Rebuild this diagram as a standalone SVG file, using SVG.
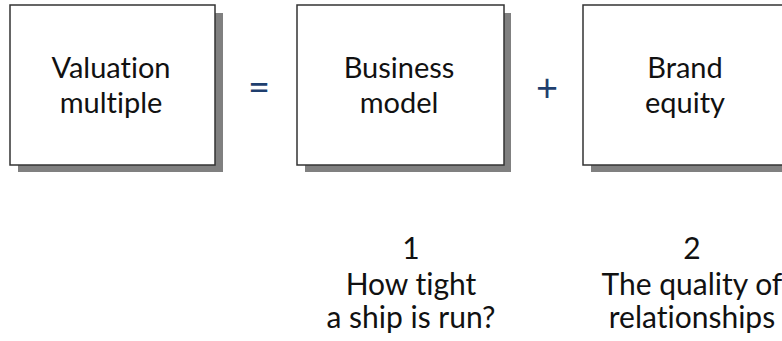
<svg xmlns="http://www.w3.org/2000/svg" width="782" height="341" viewBox="0 0 782 341">
  <style>
    .box { fill: #ffffff; stroke: #333333; stroke-width: 1.5; }
    .shadow { fill: #808080; }
    text { font-family: Lato, "Open Sans", sans-serif; font-variant-ligatures: none; text-anchor: middle; }
    .lbl { font-size: 29px; fill: #111111; }
    .op { font-size: 38px; fill: #1f3f6e; }
    .note { font-size: 30px; fill: #111111; }
  </style>
  <rect width="782" height="341" fill="#ffffff"/>

  <g id="valuation-multiple">
    <rect class="shadow" x="18" y="13" width="205" height="159"/>
    <rect class="box" x="10" y="5" width="205" height="160"/>
    <text class="lbl" x="111" y="78">Valuation</text>
    <text class="lbl" x="111" y="113">multiple</text>
  </g>

  <g id="business-model">
    <rect class="shadow" x="305" y="13" width="206" height="159"/>
    <rect class="box" x="297" y="5" width="207" height="160"/>
    <text class="lbl" x="399" y="78">Business</text>
    <text class="lbl" x="399" y="113">model</text>
  </g>

  <g id="brand-equity">
    <rect class="shadow" x="591" y="13" width="206" height="159"/>
    <rect class="box" x="583" y="5" width="207" height="160"/>
    <text class="lbl" x="685" y="78">Brand</text>
    <text class="lbl" x="685" y="113">equity</text>
  </g>

  <g id="connectors">
    <text class="op" x="259" y="101">=</text>
    <text class="op" x="547" y="101">+</text>
  </g>

  <g id="note-1">
    <text class="note" x="411" y="259">1</text>
    <text class="note" x="411" y="295">How tight</text>
    <text class="note" x="411" y="328">a ship is run?</text>
  </g>

  <g id="note-2">
    <text class="note" x="692" y="259">2</text>
    <text class="note" x="692" y="295">The quality of</text>
    <text class="note" x="692" y="328">relationships</text>
  </g>
</svg>
